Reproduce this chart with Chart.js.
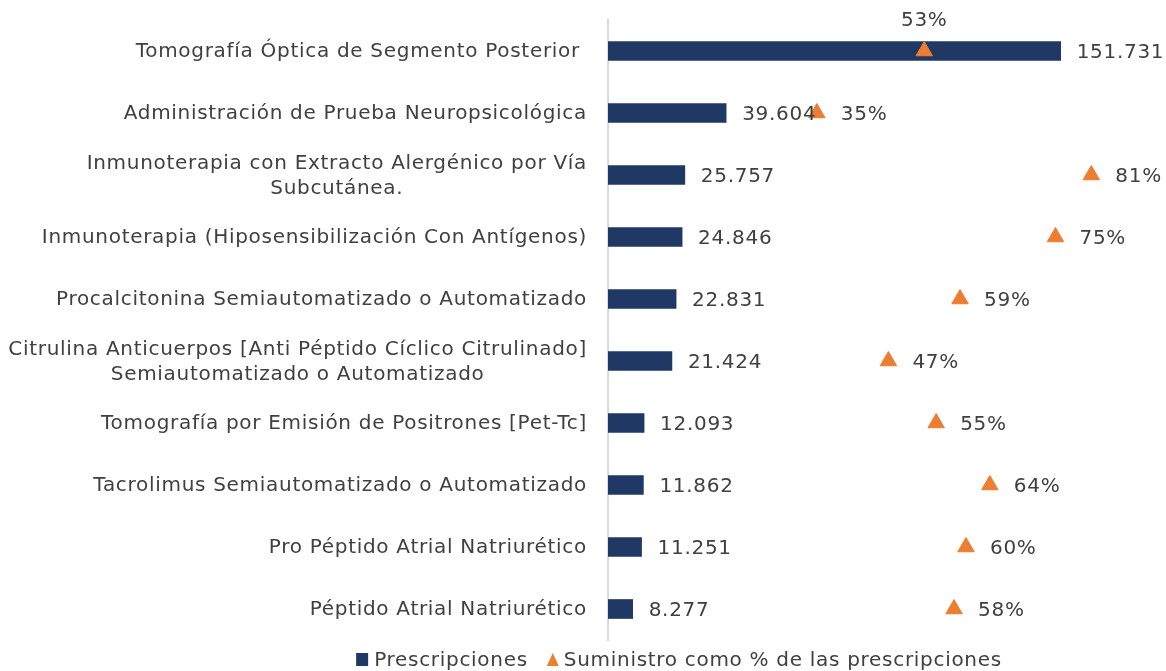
<!DOCTYPE html>
<html>
<head>
<meta charset="utf-8">
<script src="https://cdn.jsdelivr.net/npm/chart.js@4/dist/chart.umd.min.js"></script>
<style>
  html, body { margin: 0; padding: 0; background: #fff; }
  #wrap { width: 1166px; height: 671px; position: relative; }
</style>
</head>
<body>
<div id="wrap"><canvas id="c"></canvas></div>
<script>
// categories, top to bottom
const categories = [
  'Tomografía Óptica de Segmento Posterior ',
  'Administración de Prueba Neuropsicológica',
  ['Inmunoterapia con Extracto Alergénico por Vía', 'Subcutánea.'],
  'Inmunoterapia (Hiposensibilización Con Antígenos)',
  'Procalcitonina Semiautomatizado o Automatizado',
  ['Citrulina Anticuerpos [Anti Péptido Cíclico Citrulinado]', 'Semiautomatizado o Automatizado'],
  'Tomografía por Emisión de Positrones [Pet-Tc]',
  'Tacrolimus Semiautomatizado o Automatizado',
  'Pro Péptido Atrial Natriurético',
  'Péptido Atrial Natriurético'
];
const prescripciones = [151731, 39604, 25757, 24846, 22831, 21424, 12093, 11862, 11251, 8277];
const suministroPct = [0.53, 0.35, 0.81, 0.75, 0.59, 0.47, 0.55, 0.64, 0.60, 0.58];
const seriesNames = ['Prescripciones', 'Suministro como % de las prescripciones'];

const FONT = '"DejaVu Sans", Verdana, sans-serif';
const FS = 20;
const SPACING = '0.7px';   // reference font runs wider than DejaVu
const TXT = '#404040';
const NAVY = '#203864';
const ORANGE = '#ED7D31';

const fmtNum = (v) => v.toString().replace(/\B(?=(\d{3})+(?!\d))/g, '.');
const fmtPct = (v) => Math.round(v * 100) + '%';

// letter spacing gets wiped whenever the canvas is resized, so re-apply it
const spacing = {
  id: 'spacing',
  beforeUpdate(chart) { chart.ctx.letterSpacing = SPACING; },
  beforeLayout(chart) { chart.ctx.letterSpacing = SPACING; },
  beforeDraw(chart) { chart.ctx.letterSpacing = SPACING; }
};

// category labels: block right-aligned to the axis, wrapped lines centred inside the block (Excel style)
const catLabels = {
  id: 'catLabels',
  afterDraw(chart) {
    const ctx = chart.ctx, sc = chart.scales.y;
    ctx.save();
    ctx.font = FS + 'px ' + FONT;
    ctx.fillStyle = TXT;
    ctx.textBaseline = 'middle';
    ctx.textAlign = 'center';
    const right = sc.right - 21, lh = 25;
    categories.forEach((c, i) => {
      const lines = Array.isArray(c) ? c : [c];
      const bw = Math.max(...lines.map((l) => ctx.measureText(l).width));
      const y0 = sc.getPixelForTick(i) - (lines.length - 1) * lh / 2;
      lines.forEach((l, k) => ctx.fillText(l, right - bw / 2, y0 + k * lh + 1));
    });
    ctx.restore();
  }
};

// value labels next to bars / triangles, plus the legend (sits right of centre in the reference)
const valueLabels = {
  id: 'valueLabels',
  afterDatasetsDraw(chart) {
    const ctx = chart.ctx;
    ctx.save();
    ctx.font = FS + 'px ' + FONT;
    ctx.fillStyle = TXT;
    ctx.textBaseline = 'middle';
    const bars = chart.getDatasetMeta(0).data;
    const pts = chart.getDatasetMeta(1).data;
    bars.forEach((b, i) => {
      ctx.textAlign = 'left';
      ctx.fillText(fmtNum(prescripciones[i]), b.x + 16, b.y + 2);
    });
    pts.forEach((p, i) => {
      const insideBar = p.x < bars[i].x;   // triangle sits on the bar → put label above
      if (insideBar) {
        ctx.textAlign = 'center';
        ctx.fillText(fmtPct(suministroPct[i]), p.x, p.y - 30);
      } else {
        ctx.textAlign = 'left';
        ctx.fillText(fmtPct(suministroPct[i]), p.x + 24, p.y + 2);
      }
    });
    ctx.restore();
  },
  afterDraw(chart) {
    const ctx = chart.ctx;
    ctx.save();
    ctx.font = FS + 'px ' + FONT;
    ctx.textBaseline = 'middle';
    ctx.textAlign = 'left';
    const w0 = ctx.measureText(seriesNames[0]).width, w1 = ctx.measureText(seriesNames[1]).width;
    const total = 12 + 6 + w0 + 19 + 12 + 5 + w1;
    const y = chart.height - 10;
    let x = 679 - total / 2;
    ctx.fillStyle = NAVY; ctx.fillRect(x, y - 8, 12, 13);
    x += 18; ctx.fillStyle = TXT; ctx.fillText(seriesNames[0], x, y);
    x += w0 + 19;
    ctx.fillStyle = ORANGE;
    ctx.beginPath(); ctx.moveTo(x, y + 5); ctx.lineTo(x + 12, y + 5); ctx.lineTo(x + 6, y - 8); ctx.closePath(); ctx.fill();
    x += 17; ctx.fillStyle = TXT; ctx.fillText(seriesNames[1], x, y);
    ctx.restore();
  }
};

new Chart(document.getElementById('c'), {
  type: 'bar',
  data: {
    labels: categories,
    datasets: [
      {
        label: seriesNames[0],
        data: prescripciones,
        backgroundColor: NAVY,
        xAxisID: 'x',
        barThickness: 19,
        order: 2
      },
      {
        type: 'line',
        label: seriesNames[1],
        data: suministroPct,
        xAxisID: 'x2',
        showLine: false,
        pointStyle: 'triangle',
        pointRadius: 9.5,
        pointBackgroundColor: ORANGE,
        pointBorderColor: ORANGE,
        backgroundColor: ORANGE,
        borderColor: ORANGE,
        order: 1
      }
    ]
  },
  options: {
    indexAxis: 'y',
    responsive: true,
    maintainAspectRatio: false,
    animation: false,
    layout: { padding: { top: 20, right: 21, left: 0, bottom: 31 } },
    scales: {
      x: { display: false, min: 0, max: 180000 },
      x2: { display: false, min: 0, max: 0.9 },
      y: {
        grid: { display: false },
        border: { display: true, color: '#D9D9D9', width: 2 },
        ticks: { display: false },
        afterFit(scale) { scale.width = 608; scale.paddingTop = 0; scale.paddingBottom = 0; }
      }
    },
    plugins: {
      legend: { display: false },
      tooltip: { enabled: false }
    }
  },
  plugins: [spacing, catLabels, valueLabels]
});
</script>
</body>
</html>
